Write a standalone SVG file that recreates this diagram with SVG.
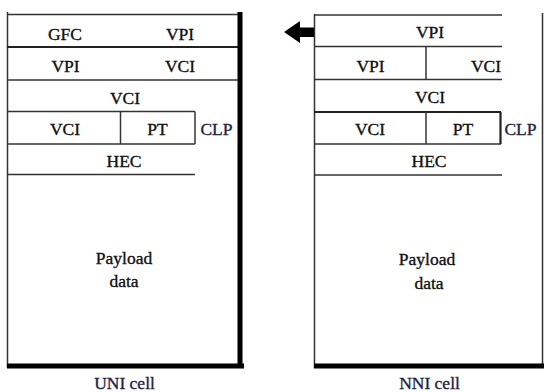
<svg xmlns="http://www.w3.org/2000/svg" width="544" height="392" viewBox="0 0 544 392" font-family="'Liberation Serif', 'DejaVu Serif', serif">
<style>
  text { font-family: "Liberation Serif", "DejaVu Serif", "Times New Roman", serif; font-size: 17.5px; fill: #111; stroke: #111; stroke-width: 0.35; text-anchor: middle; }
  .lbl { fill: #1e2442; stroke: #1e2442; }
  .thin { stroke: #333; stroke-width: 1.5; fill: none; }
  .mid { stroke: #222; stroke-width: 2.2; fill: none; }
  .thick { stroke: #000; stroke-width: 5; fill: none; }
</style>
<rect width="544" height="392" fill="#fff"/>

<g id="uni-cell">
  <line class="thin" x1="7.5" y1="12" x2="7.5" y2="368"/>
  <line class="thin" x1="7" y1="14.5" x2="238" y2="14.5"/>
  <line class="mid" x1="7" y1="47" x2="238" y2="47"/>
  <line class="thin" x1="7" y1="80" x2="238" y2="80"/>
  <line class="thin" x1="7" y1="111.5" x2="195" y2="111.5"/>
  <line class="thin" x1="120.5" y1="111.5" x2="120.5" y2="144"/>
  <line class="thin" x1="195" y1="111.5" x2="195" y2="144"/>
  <line class="thin" x1="7" y1="144" x2="195" y2="144"/>
  <line class="thin" x1="7" y1="174.5" x2="195" y2="174.5"/>
  <line class="thick" x1="240" y1="12" x2="240" y2="368"/>
  <line class="thick" x1="7" y1="366" x2="244" y2="366"/>
  <text x="65" y="40">GFC</text>
  <text x="180" y="40">VPI</text>
  <text x="65.5" y="72">VPI</text>
  <text x="180" y="72">VCI</text>
  <text x="125" y="104">VCI</text>
  <text x="65" y="135">VCI</text>
  <text x="157.5" y="135">PT</text>
  <text class="lbl" x="216.5" y="135">CLP</text>
  <text x="124" y="167">HEC</text>
  <text x="124" y="264">Payload</text>
  <text x="124" y="287">data</text>
  <text class="lbl" x="124.5" y="389">UNI cell</text>
</g>

<g id="nni-cell">
  <line class="thin" x1="314.5" y1="14" x2="314.5" y2="368"/>
  <line class="thin" x1="314" y1="15" x2="502" y2="15"/>
  <line class="thin" x1="314" y1="46.5" x2="502" y2="46.5"/>
  <line class="thin" x1="426" y1="46.5" x2="426" y2="79.5"/>
  <line class="thin" x1="314" y1="79.5" x2="502" y2="79.5"/>
  <line class="mid" x1="314" y1="112" x2="501" y2="112"/>
  <line class="thin" x1="426" y1="112" x2="426" y2="144"/>
  <line class="mid" x1="500.5" y1="112" x2="500.5" y2="144"/>
  <line class="thin" x1="314" y1="144" x2="501" y2="144"/>
  <line class="thin" x1="314" y1="175" x2="502" y2="175"/>
  <line class="thin" x1="542.5" y1="13" x2="542.5" y2="366"/>
  <line class="thick" x1="314" y1="366" x2="544" y2="366"/>
  <text x="430" y="38">VPI</text>
  <text x="370.5" y="72">VPI</text>
  <text x="486" y="72">VCI</text>
  <text x="430" y="103">VCI</text>
  <text x="370" y="135">VCI</text>
  <text x="463" y="135">PT</text>
  <text class="lbl" x="520.5" y="135">CLP</text>
  <text x="429" y="167">HEC</text>
  <text x="427" y="265">Payload</text>
  <text x="429" y="289">data</text>
  <text class="lbl" x="429.5" y="389">NNI cell</text>
</g>

<g id="connectors">
  <polygon points="284,32 300,21 300,27.5 314,27.5 314,37 300,37 300,43" fill="#000"/>
</g>
</svg>
